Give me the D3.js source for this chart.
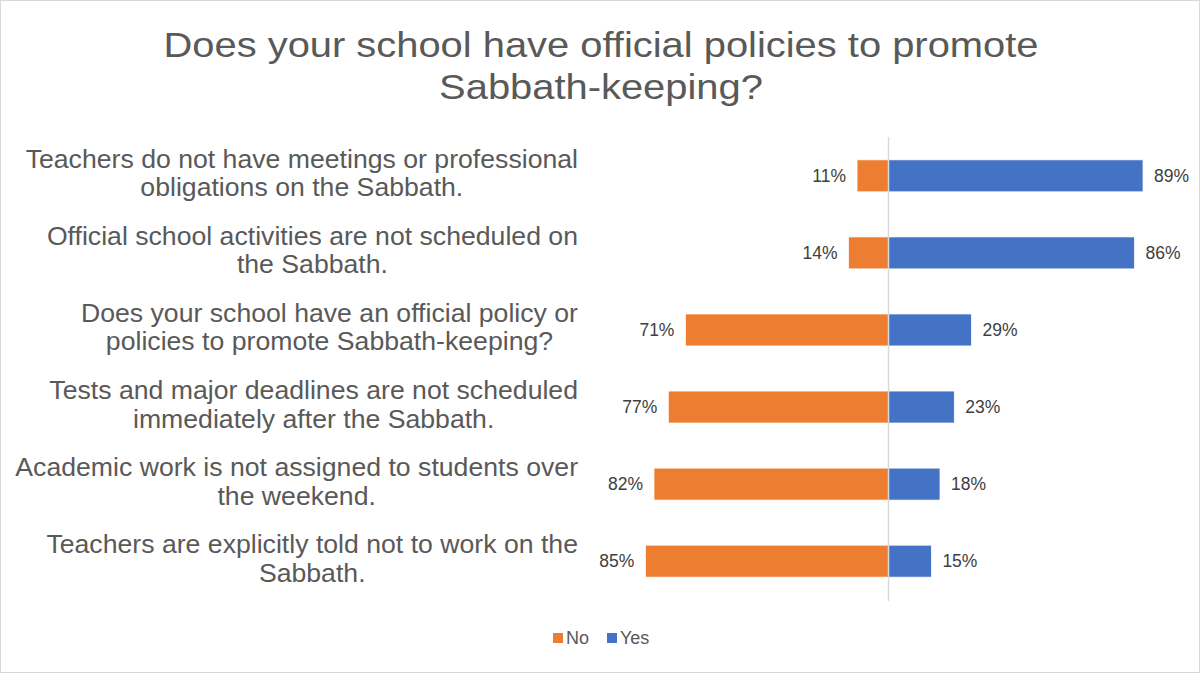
<!DOCTYPE html>
<html>
<head>
<meta charset="utf-8">
<script src="https://cdn.jsdelivr.net/npm/d3@7"></script>
<style>
  body { margin: 0; background: #fff; }
  svg { display: block; font-family: "Liberation Sans", Arial, sans-serif; }
</style>
</head>
<body>
<div id="chart"></div>
<script>
// data
var categories = [
  ["Teachers do not have meetings or professional", "obligations on the Sabbath."],
  ["Official school activities are not scheduled on", "the Sabbath."],
  ["Does your school have an official policy or", "policies to promote Sabbath-keeping?"],
  ["Tests and major deadlines are not scheduled", "immediately after the Sabbath."],
  ["Academic work is not assigned to students over", "the weekend."],
  ["Teachers are explicitly told not to work on the", "Sabbath."]
];
var noValues = [11, 14, 71, 77, 82, 85];
var yesValues = [89, 86, 29, 23, 18, 15];
var seriesNames = ["No", "Yes"];
var seriesColors = ["#ED7D31", "#4472C4"];
var titleLines = ["Does your school have official policies to promote", "Sabbath-keeping?"];

var width = 1200, height = 673;

var svg = d3.select("#chart")
  .append("svg")
  .attr("width", width)
  .attr("height", height);

// outer frame
svg.append("rect")
  .attr("x", 0.5).attr("y", 0.5)
  .attr("width", width - 1).attr("height", height - 1)
  .attr("fill", "#fff")
  .attr("stroke", "#d9d9d9");

// title (the original text is a little stretched sideways)
svg.append("g")
  .attr("transform", "translate(601,0) scale(1.14,1)")
  .append("text")
  .attr("text-anchor", "middle")
  .attr("fill", "#595959")
  .style("font-size", "35px")
  .selectAll("tspan")
  .data(titleLines)
  .enter()
  .append("tspan")
  .attr("x", 0)
  .attr("y", function (d, i) { return 57 + i * 42; })
  .text(function (d) { return d; });

// scales
var zeroX = 888.5;
var x = d3.scaleLinear()
  .domain([-100, 100])
  .range([zeroX - 286, zeroX + 286]);

var y = d3.scaleBand()
  .domain(d3.range(categories.length))
  .range([137.5, 599.5])
  .paddingInner(0.585)
  .paddingOuter(0.29);

var rows = categories.map(function (c, i) {
  return { label: c, no: noValues[i], yes: yesValues[i], i: i };
});

// bars
var g = svg.append("g");

g.selectAll(".no")
  .data(rows)
  .enter()
  .append("rect")
  .attr("class", "no")
  .attr("x", function (d) { return x(-d.no); })
  .attr("y", function (d) { return y(d.i); })
  .attr("width", function (d) { return x(0) - x(-d.no); })
  .attr("height", y.bandwidth())
  .attr("fill", seriesColors[0])
  .attr("stroke", "#fff")
  .attr("stroke-width", 0.75);

g.selectAll(".yes")
  .data(rows)
  .enter()
  .append("rect")
  .attr("class", "yes")
  .attr("x", x(0))
  .attr("y", function (d) { return y(d.i); })
  .attr("width", function (d) { return x(d.yes) - x(0); })
  .attr("height", y.bandwidth())
  .attr("fill", seriesColors[1])
  .attr("stroke", "#fff")
  .attr("stroke-width", 0.75);

// vertical axis line
svg.append("line")
  .attr("x1", x(0)).attr("x2", x(0))
  .attr("y1", 137).attr("y2", 601)
  .attr("stroke", "#d9d9d9")
  .attr("stroke-width", 1.5);

// value labels
g.selectAll(".noLabel")
  .data(rows)
  .enter()
  .append("text")
  .attr("x", function (d) { return x(-d.no) - 11; })
  .attr("y", function (d) { return y(d.i) + y.bandwidth() / 2 + 6; })
  .attr("text-anchor", "end")
  .attr("fill", "#404040")
  .style("font-size", "17.5px")
  .text(function (d) { return d.no + "%"; });

g.selectAll(".yesLabel")
  .data(rows)
  .enter()
  .append("text")
  .attr("x", function (d) { return x(d.yes) + 11; })
  .attr("y", function (d) { return y(d.i) + y.bandwidth() / 2 + 6; })
  .attr("text-anchor", "start")
  .attr("fill", "#404040")
  .style("font-size", "17.5px")
  .text(function (d) { return d.yes + "%"; });

// category labels: lines centred on each other, block right-aligned
var labelRight = 578;
var labelScale = 1.066;
rows.forEach(function (d) {
  var t = svg.append("g")
    .attr("transform", "translate(" + labelRight + ",0) scale(" + labelScale + ",1)")
    .append("text")
    .attr("fill", "#595959")
    .attr("text-anchor", "middle")
    .style("font-size", "25px");
  var spans = t.selectAll("tspan")
    .data(d.label)
    .enter()
    .append("tspan")
    .attr("y", function (s, k) { return y(d.i) + y.bandwidth() / 2 - 8 + k * 28.5; })
    .text(function (s) { return s; });
  var maxW = 0;
  spans.each(function () { maxW = Math.max(maxW, this.getComputedTextLength()); });
  spans.attr("x", -maxW / 2);
});

// legend
var legend = svg.append("g").attr("transform", "translate(553,633)");
var lx = [0, 54];
seriesNames.forEach(function (name, i) {
  legend.append("rect")
    .attr("x", lx[i]).attr("y", 0)
    .attr("width", 10).attr("height", 10)
    .attr("fill", seriesColors[i]);
  legend.append("text")
    .attr("x", lx[i] + 13).attr("y", 11)
    .attr("fill", "#595959")
    .style("font-size", "18px")
    .text(name);
});
</script>
</body>
</html>
